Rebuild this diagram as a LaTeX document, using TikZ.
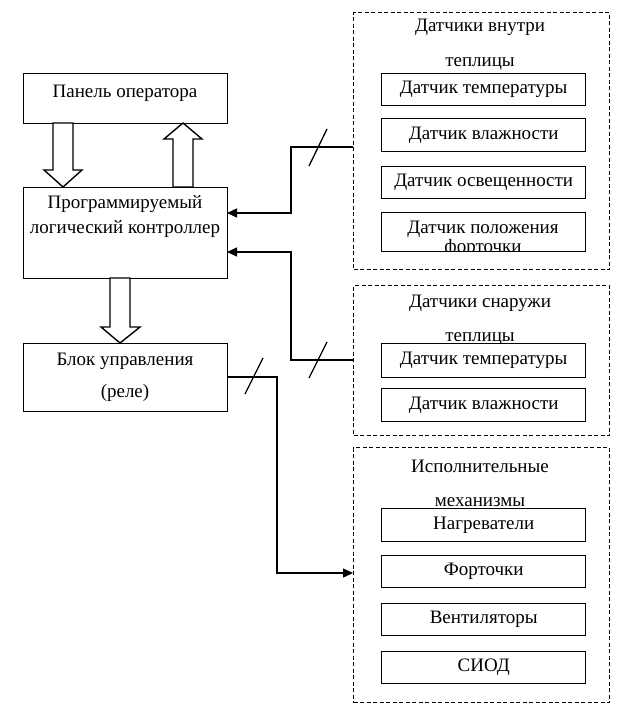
\documentclass[tikz,border=0pt]{standalone}
\usepackage{fontspec}
\setmainfont{Liberation Serif}
\usetikzlibrary{arrows.meta}
\tikzset{
  box/.style={draw, line width=1.4pt, inner sep=0pt, anchor=north west},
  grp/.style={draw, line width=1.2pt, dash pattern=on 4pt off 2.5pt, inner sep=0pt, anchor=north west},
  lbl/.style={font=\fontsize{19}{19}\selectfont, inner sep=0pt},
  wire/.style={line width=1.4pt},
  arr/.style={wire, -{Triangle[length=10pt,width=9pt]}},
  hollow/.style={draw, line width=1.4pt, fill=white, line join=miter},
  slash/.style={line width=1.3pt}
}
\begin{document}
\begin{tikzpicture}[x=1pt,y=-1pt]
\useasboundingbox (0,0) rectangle (624,708);
% left boxes
\node[box, minimum width=204pt, minimum height=50pt] (panel) at (23,73) {};
\node[lbl] at (125,93) {Панель  оператора};
\node[box, minimum width=204pt, minimum height=91pt] (plc) at (23,187) {};
\node[lbl] at (125,204) {Программируемый};
\node[lbl] at (125,229) {логический контроллер};
\node[box, minimum width=204pt, minimum height=68pt] (blk) at (23,343) {};
\node[lbl] at (125,361) {Блок управления};
\node[lbl] at (125,393) {(реле)};
% hollow arrows
\draw[hollow] (53,123) -- (73,123) -- (73,170) -- (82,170) -- (63,187) -- (44,170) -- (53,170) -- cycle;
\draw[hollow] (173,187) -- (193,187) -- (193,139) -- (202,139) -- (183,123) -- (164,139) -- (173,139) -- cycle;
\draw[hollow] (110,278) -- (130,278) -- (130,327) -- (140,327) -- (120,343) -- (101,327) -- (110,327) -- cycle;
% group 1
\node[grp, minimum width=256pt, minimum height=257pt] (g1) at (353,12) {};
\node[lbl, align=center] (g1t) at (480,45) {Датчики внутри\\[16pt]теплицы};
\node[box, minimum width=204pt, minimum height=32pt] (s1) at (381,73) {};
\node[lbl] at (s1.center) {Датчик температуры};
\node[box, minimum width=204pt, minimum height=33pt] (s2) at (381,118) {};
\node[lbl] at (s2.center) {Датчик влажности};
\node[box, minimum width=204pt, minimum height=32pt] (s3) at (381,166) {};
\node[lbl] at (s3.center) {Датчик освещенности};
\node[box, minimum width=204pt, minimum height=39pt] (s4) at (381,212) {};
\begin{scope}
\clip (381,212) rectangle (585,251);
\node[lbl, align=center] at (483,239) {Датчик положения\\форточки};
\end{scope}
% group 2
\node[grp, minimum width=256pt, minimum height=150pt] (g2) at (353,285) {};
\node[lbl, align=center] (g2t) at (480,320) {Датчики снаружи\\[15pt]теплицы};
\node[box, minimum width=204pt, minimum height=34pt, fill=white] (o1) at (381,343) {};
\node[lbl] at (o1.center) {Датчик температуры};
\node[box, minimum width=204pt, minimum height=33pt] (o2) at (381,388) {};
\node[lbl] at (o2.center) {Датчик влажности};
% group 3
\node[grp, minimum width=256pt, minimum height=255pt] (g3) at (353,447) {};
\node[lbl, align=center] (g3t) at (480,483) {Исполнительные\\[15pt]механизмы};
\node[box, minimum width=204pt, minimum height=33pt, fill=white] (a1) at (381,508) {};
\node[lbl] at (a1.center) {Нагреватели};
\node[box, minimum width=204pt, minimum height=32pt] (a2) at (381,555) {};
\node[lbl] at (a2.center) {Форточки};
\node[box, minimum width=204pt, minimum height=32pt] (a3) at (381,603) {};
\node[lbl] at (a3.center) {Вентиляторы};
\node[box, minimum width=204pt, minimum height=32pt] (a4) at (381,651) {};
\node[lbl] at (a4.center) {СИОД};
% connectors
\coordinate (e1) at (353,147);
\coordinate (p1) at (227,213);
\coordinate (e2) at (353,360);
\coordinate (p2) at (227,252);
\coordinate (b1) at (227,377);
\coordinate (e3) at (353,573);
\draw[arr] (e1) -- (291,147) -- (291,213) -- (p1);
\draw[arr] (e2) -- (291,360) -- (291,252) -- (p2);
\draw[arr] (b1) -- (277,377) -- (277,573) -- (e3);
% slashes
\draw[slash] (309,166) -- (327,129);
\draw[slash] (309,378) -- (327,342);
\draw[slash] (245,394) -- (263,358);
\end{tikzpicture}
\end{document}
